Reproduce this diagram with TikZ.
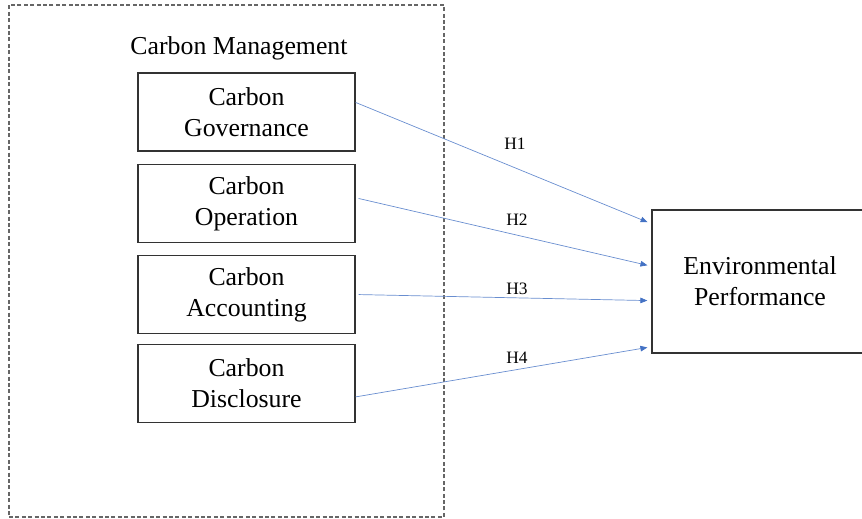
\documentclass[tikz,border=0pt]{standalone}
\usepackage{fontspec}
\setmainfont{Liberation Serif}
\usetikzlibrary{arrows.meta}
\definecolor{hblue}{RGB}{68,114,196}
\tikzset{
  construct/.style = {rectangle, draw=black!80, line width=0.65pt, minimum width=108.5pt, minimum height=39pt, align=center, font=\fontsize{12.9}{15.5}\selectfont},
  group/.style     = {rectangle, draw=black!60, line width=0.6pt, dash pattern=on 2pt off 1.2pt, minimum width=217.5pt, minimum height=256pt},
  link/.style      = {draw=hblue!80, line width=0.35pt, -{Triangle[length=3.5pt,width=2.8pt,color=hblue]}, shorten >=2pt},
  hyp/.style       = {font=\fontsize{8.7}{10}\selectfont, anchor=base, inner sep=0pt},
  heading/.style   = {font=\fontsize{12.9}{15.5}\selectfont, anchor=base, inner sep=0pt}
}
\begin{document}
\begin{tikzpicture}[x=0.5pt,y=-0.5pt]
  \useasboundingbox (0,0) rectangle (862,519);
  % carbon management block
  \node[group] (mgmt) at (226.5,261) {};
  \node[heading] (title) at (239,55) {Carbon Management};
  \node[construct] (gov)  at (246.5,112)   {Carbon\\Governance};
  \node[construct] (oper) at (246.5,203.5) {Carbon\\Operation};
  \node[construct] (acc)  at (246.5,294.5) {Carbon\\Accounting};
  \node[construct] (disc) at (246.5,383.5) {Carbon\\Disclosure};
  % outcome
  \node[construct, minimum width=108pt, minimum height=71.5pt] (env) at (760,281.5) {Environmental\\Performance};
  % hypotheses
  \draw[link] (gov.5) -- (env.152.4);
  \draw[link, shorten <=1.5pt] (oper.3) -- (env.172.4);
  \draw[link, shorten <=1.5pt] (acc.0) -- (env.190.7);
  \draw[link] (disc.-7) -- (env.211.6);
  \node[hyp] (h1) at (515,149) {H1};
  \node[hyp] (h2) at (517,225) {H2};
  \node[hyp] (h3) at (517,294) {H3};
  \node[hyp] (h4) at (517,363) {H4};
\end{tikzpicture}
\end{document}
